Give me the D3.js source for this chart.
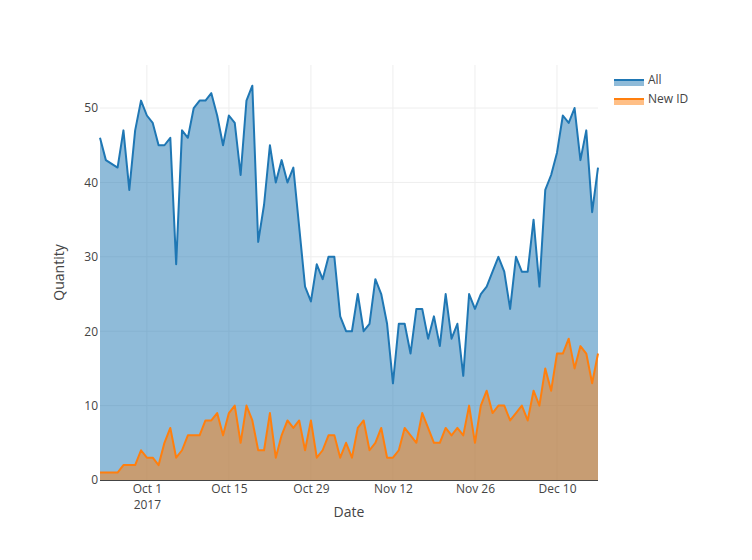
<!DOCTYPE html>
<html>
<head>
<meta charset="utf-8">
<script src="https://cdn.jsdelivr.net/npm/d3@7"></script>
<style>
  body { margin: 0; background: #fff; }
  text { font-family: "Open Sans", Verdana, Arial, sans-serif; fill: #444; }
</style>
</head>
<body>
<svg id="chart" width="752" height="560"></svg>
<script>
const startDate = "2017-09-23";
const allValues = [46, 43, 42.5, 42, 47, 39, 47, 51, 49, 48, 45, 45, 46, 29, 47, 46, 50, 51, 51, 52,
  49, 45, 49, 48, 41, 51, 53, 32, 37, 45, 40, 43, 40, 42, 34, 26, 24, 29, 27, 30,
  30, 22, 20, 20, 25, 20, 21, 27, 25, 21, 13, 21, 21, 17, 23, 23, 19, 22, 18, 25,
  19, 21, 14, 25, 23, 25, 26, 28, 30, 28, 23, 30, 28, 28, 35, 26, 39, 41, 44, 49,
  48, 50, 43, 47, 36, 42];
const newIdValues = [1, 1, 1, 1, 2, 2, 2, 4, 3, 3, 2, 5, 7, 3, 4, 6, 6, 6, 8, 8,
  9, 6, 9, 10, 5, 10, 8, 4, 4, 9, 3, 6, 8, 7, 8, 4, 8, 3, 4, 6,
  6, 3, 5, 3, 7, 8, 4, 5, 7, 3, 3, 4, 7, 6, 5, 9, 7, 5, 5, 7,
  6, 7, 6, 10, 5, 10, 12, 9, 10, 10, 8, 9, 10, 8, 12, 10, 15, 12, 17, 17,
  19, 15, 18, 17, 13, 17];
const seriesNames = ["All", "New ID"];
const seriesColors = ["#1f77b4", "#ff7f0e"];
const fillColors = ["rgba(31,119,180,0.5)", "rgba(255,127,14,0.5)"];
const yTicks = [0, 10, 20, 30, 40, 50];
const xTickDates = ["2017-10-01", "2017-10-15", "2017-10-29", "2017-11-12", "2017-11-26", "2017-12-10"];
const xTickLabels = ["Oct 1", "Oct 15", "Oct 29", "Nov 12", "Nov 26", "Dec 10"];
const xYearLabel = "2017";

const parse = d3.utcParse("%Y-%m-%d");
const start = parse(startDate);
const dates = allValues.map((_, i) => d3.utcDay.offset(start, i));
const series = [allValues, newIdValues].map(vals => vals.map((v, i) => ({date: dates[i], value: v})));

const svg = d3.select("#chart");
const L = 100, R = 598, T = 65, B = 480;

const x = d3.scaleUtc().domain([dates[0], dates[dates.length - 1]]).range([L, R]);
const yMax = d3.max(allValues) * 1.0526;
const y = d3.scaleLinear().domain([0, yMax]).range([B, T]);

// grid
const g = svg.append("g");
g.selectAll("line.hg").data(yTicks.filter(t => t > 0)).join("line")
  .attr("x1", L).attr("x2", R)
  .attr("y1", d => y(d)).attr("y2", d => y(d))
  .attr("stroke", "#eee").attr("stroke-width", 1);
g.selectAll("line.vg").data(xTickDates.map(parse)).join("line")
  .attr("x1", d => x(d)).attr("x2", d => x(d))
  .attr("y1", T).attr("y2", B)
  .attr("stroke", "#eee").attr("stroke-width", 1);

const area = d3.area().x(d => x(d.date)).y0(y(0)).y1(d => y(d.value));
const line = d3.line().x(d => x(d.date)).y(d => y(d.value));

series.forEach((s, i) => {
  svg.append("path").datum(s).attr("d", area).attr("fill", fillColors[i]);
});
series.forEach((s, i) => {
  svg.append("path").datum(s).attr("d", line)
    .attr("fill", "none").attr("stroke", seriesColors[i]).attr("stroke-width", 2)
    .attr("stroke-linejoin", "round");
});

// x axis line
svg.append("line").attr("x1", L).attr("x2", R).attr("y1", B + 0.5).attr("y2", B + 0.5)
  .attr("stroke", "#444").attr("stroke-width", 1);

// y tick labels
const yAxis = d3.axisLeft(y).tickValues(yTicks).tickSize(0).tickPadding(2);
const ya = svg.append("g").attr("transform", `translate(${L},0)`).call(yAxis);
ya.select(".domain").remove();
ya.selectAll("text").attr("font-size", 12).style("font-family", '"Open Sans", Verdana, Arial, sans-serif').attr("fill", "#444");

// x tick labels
const xAxis = d3.axisBottom(x).tickValues(xTickDates.map(parse)).tickSize(0).tickPadding(0)
  .tickFormat((d, i) => xTickLabels[i]);
const xa = svg.append("g").attr("transform", `translate(0,${B})`).call(xAxis);
xa.select(".domain").remove();
xa.selectAll(".tick text").attr("font-size", 12).attr("y", 12.5).attr("dy", 0)
  .style("font-family", '"Open Sans", Verdana, Arial, sans-serif').attr("fill", "#444");
xa.selectAll(".tick").filter((d, i) => i === 0).append("text")
  .attr("font-size", 12).attr("text-anchor", "middle").attr("fill", "#444")
  .attr("y", 28.5).text(xYearLabel);

// axis titles
svg.append("text").attr("x", (L + R) / 2).attr("y", 517).attr("text-anchor", "middle")
  .attr("font-size", 14).text("Date");
svg.append("text").attr("transform", `translate(64,${(T + B) / 2}) rotate(-90)`)
  .attr("text-anchor", "middle").attr("font-size", 14).text("Quantity");

// legend
const lg = svg.append("g").attr("transform", "translate(609,80)");
seriesNames.forEach((name, i) => {
  const row = lg.append("g").attr("transform", `translate(0,${i * 19})`);
  row.append("rect").attr("x", 5).attr("y", 0).attr("width", 30).attr("height", 6)
    .attr("fill", fillColors[i]);
  row.append("line").attr("x1", 5).attr("x2", 35).attr("y1", 0).attr("y2", 0)
    .attr("stroke", seriesColors[i]).attr("stroke-width", 2);
  row.append("text").attr("x", 39).attr("y", 4).attr("font-size", 12).text(name);
});
</script>
</body>
</html>
